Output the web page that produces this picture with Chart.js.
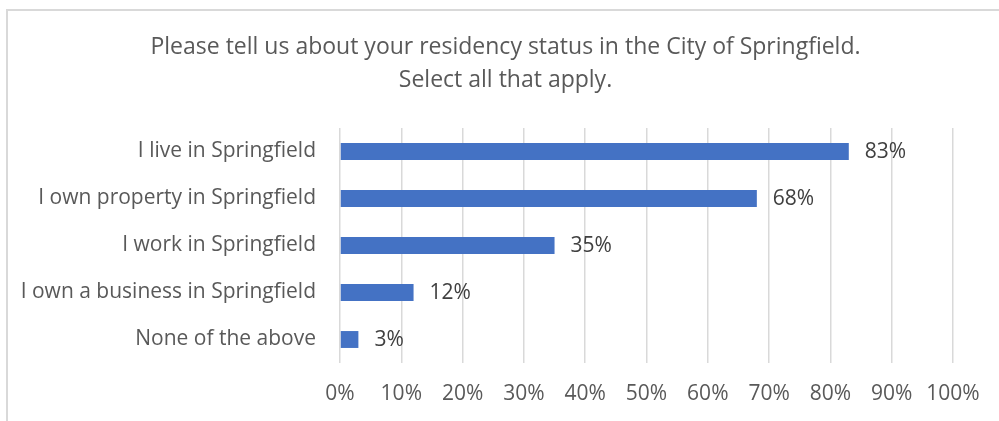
<!DOCTYPE html>
<html>
<head>
<meta charset="utf-8">
<script src="https://cdn.jsdelivr.net/npm/chart.js@4/dist/chart.umd.min.js"></script>
<style>
  html, body { margin: 0; padding: 0; background: #fff; overflow: hidden; }
  #wrap { position: relative; width: 999px; height: 421px; }
  #frame {
    position: absolute; left: 6px; top: 9px; width: 1100px; height: 500px;
    border-left: 2px solid #d9d9d9; border-top: 2px solid #d9d9d9; box-sizing: border-box;
  }
  canvas { position: absolute; left: 0; top: 0; }
</style>
</head>
<body>
<div id="wrap">
  <div id="frame"></div>
  <canvas id="chart" width="999" height="421"></canvas>
</div>
<script>
// Survey categories and share of respondents (%)
const categories = [
  "I live in Springfield",
  "I own property in Springfield",
  "I work in Springfield",
  "I own a business in Springfield",
  "None of the above"
];
const shares = [83, 68, 35, 12, 3];
const titleLines = [
  "Please tell us about your residency status in the City of Springfield.",
  "Select all that apply."
];
const tickValues = [0, 10, 20, 30, 40, 50, 60, 70, 80, 90, 100];

const FONT = "'Open Sans', Lato, sans-serif";

// Two-line heading, centred on the framed panel
const heading = {
  id: "heading",
  afterDraw(chart) {
    const ctx = chart.ctx;
    ctx.save();
    ctx.font = "23px " + FONT;
    ctx.fillStyle = "#595959";
    ctx.textAlign = "center";
    ctx.textBaseline = "middle";
    titleLines.forEach((line, i) => ctx.fillText(line, 505.5, 47 + i * 33));
    ctx.restore();
  }
};

// Writes each bar's value just past its end
const valueLabels = {
  id: "valueLabels",
  afterDatasetsDraw(chart) {
    const ctx = chart.ctx;
    const meta = chart.getDatasetMeta(0);
    ctx.save();
    ctx.font = "21px " + FONT;
    ctx.fillStyle = "#404040";
    ctx.textAlign = "left";
    ctx.textBaseline = "middle";
    meta.data.forEach((bar, i) => {
      ctx.fillText(shares[i] + "%", bar.x + 16, bar.y + 1);
    });
    ctx.restore();
  }
};

new Chart(document.getElementById("chart"), {
  type: "bar",
  data: {
    labels: categories,
    datasets: [{
      data: shares,
      backgroundColor: "#4472C4",
      borderWidth: 0,
      categoryPercentage: 1,
      barPercentage: 0.36
    }]
  },
  options: {
    indexAxis: "y",
    responsive: false,
    animation: false,
    devicePixelRatio: 1,
    layout: { padding: { left: 0, right: 46, top: 128, bottom: 0 } },
    plugins: {
      legend: { display: false },
      tooltip: { enabled: false },
      title: { display: false }
    },
    scales: {
      x: {
        min: 0,
        max: 100,
        afterBuildTicks(scale) {
          scale.ticks = tickValues.map(v => ({ value: v }));
        },
        afterFit(scale) { scale.height = 58; },
        grid: { color: "#d9d9d9", lineWidth: 1.5, drawTicks: false },
        border: { display: false },
        ticks: {
          padding: 18,
          color: "#595959",
          font: { family: FONT, size: 21 },
          callback: v => v + "%"
        }
      },
      y: {
        afterFit(scale) { scale.width = 340; },
        grid: { display: false, drawTicks: false },
        border: { display: false },
        ticks: {
          padding: 24,
          color: "#595959",
          font: { family: FONT, size: 21 }
        }
      }
    }
  },
  plugins: [valueLabels, heading]
});
</script>
</body>
</html>
